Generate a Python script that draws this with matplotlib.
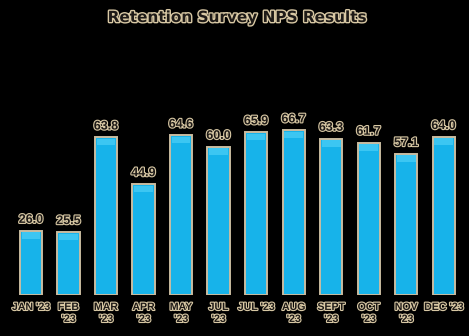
import numpy as np
import matplotlib
matplotlib.use("Agg")
import matplotlib.pyplot as plt
import matplotlib.patheffects as pe

# Dane z wykresu
months = ["JAN '23", "FEB\n'23", "MAR\n'23", "APR\n'23", "MAY\n'23", "JUL\n'23",
          "JUL '23", "AUG\n'23", "SEPT\n'23", "OCT\n'23", "NOV\n'23", "DEC '23"]
nps = [26.0, 25.5, 63.8, 44.9, 64.6, 60.0, 65.9, 66.7, 63.3, 61.7, 57.1, 64.0]

halo = [pe.withStroke(linewidth=1.6, foreground="#d8c8a4")]
fam = "Liberation Sans"

fig = plt.figure(figsize=(4.69, 3.36), dpi=100, facecolor="black")
ax = fig.add_axes([0.026, 0.122, 0.96, 0.735], facecolor="black")

x = np.arange(len(months))
bars = ax.bar(x, nps, width=0.59, color="#17b3ea", edgecolor="#c9bca0", linewidth=1.4, zorder=2)

# Delikatne podświetlenie na górze słupków
for b in bars:
    ax.bar(b.get_x() + b.get_width() / 2, 2.6, width=b.get_width() * 0.85,
           bottom=b.get_height() - 3.2, color="#3cc6f2", linewidth=0, zorder=3)

for xi, v in zip(x, nps):
    ax.text(xi, v + 2.0, f"{v:.1f}", ha="center", va="bottom", fontsize=9,
            color="#1e1a17", fontweight="bold", family=fam, path_effects=halo)

ax.set_xlim(-0.5, len(months) - 0.5)
ax.set_ylim(0, 100)
ax.set_xticks(x)
ax.set_xticklabels(months, fontsize=7.6, color="#1e1a17", fontweight="bold",
                   family=fam, linespacing=1.25, va="top")
for t in ax.get_xticklabels():
    t.set_path_effects(halo)
ax.tick_params(axis="x", length=0, pad=5)
ax.set_yticks([])
for s in ax.spines.values():
    s.set_visible(False)

fig.text(0.505, 0.948, "Retention Survey NPS Results", ha="center", va="center",
         fontsize=11, fontweight="bold", color="#1e1a17",
         path_effects=[pe.withStroke(linewidth=2.0, foreground="#d8c8a4")])

fig.savefig("out.png", dpi=100, facecolor="black")
